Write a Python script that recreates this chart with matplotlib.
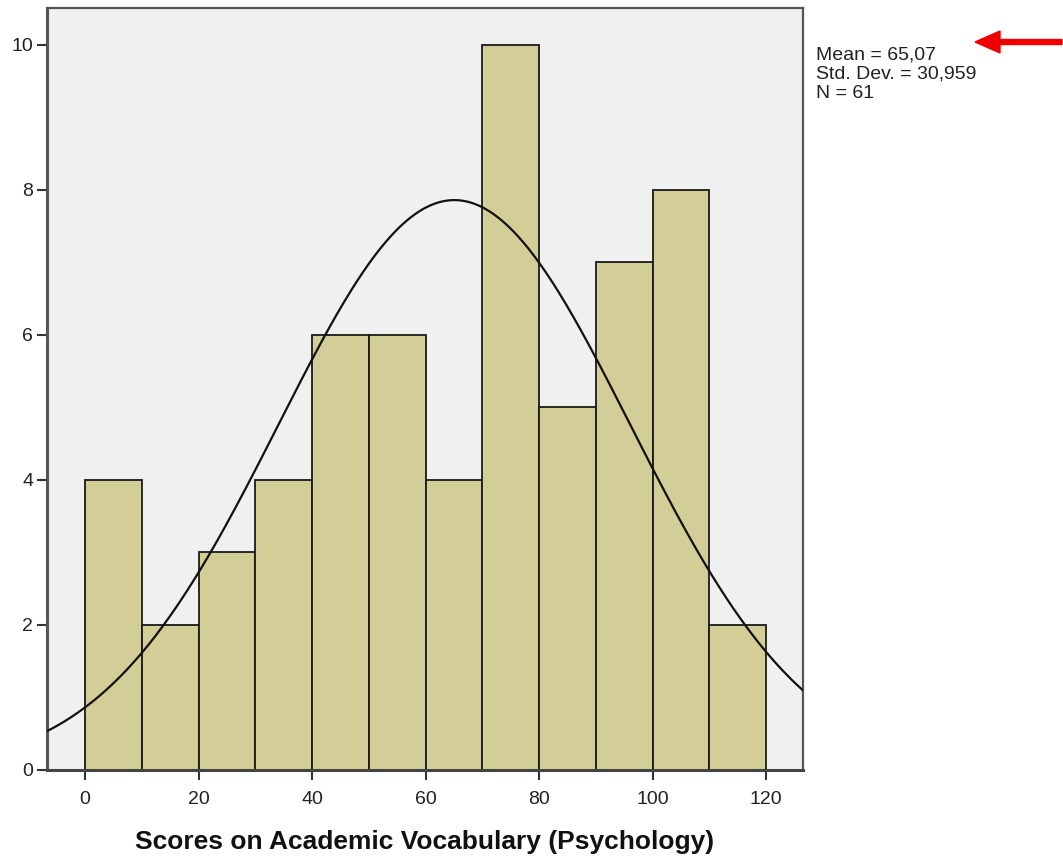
import numpy as np
import matplotlib.pyplot as plt
from matplotlib.patches import FancyArrow

bin_edges = [0, 10, 20, 30, 40, 50, 60, 70, 80, 90, 100, 110, 120]
counts = [4, 2, 3, 4, 6, 6, 4, 10, 5, 7, 8, 2]
mean = 65.07
std = 30.959
n = 61

plt.rcParams['font.family'] = ['Liberation Sans', 'DejaVu Sans']

fig = plt.figure(figsize=(10.63, 8.58), dpi=100)
ax = fig.add_axes([47/1063, 88/858, 756/1063, 762/858])
ax.set_facecolor('#f0f0f0')

lefts = bin_edges[:-1]
ax.bar(lefts, counts, width=10, align='edge', color='#d3ce97',
       edgecolor='#1a1a1a', linewidth=1.3, zorder=2)

# normal curve scaled to the histogram
xs = np.linspace(-7, 127, 400)
width = bin_edges[1] - bin_edges[0]
ys = n * width / (std * np.sqrt(2 * np.pi)) * np.exp(-0.5 * ((xs - mean) / std) ** 2)
ax.plot(xs, ys, color='#111111', lw=1.6, zorder=3)

ax.set_xlim(-6.7, 126.5)
ax.set_ylim(0, 10.51)
ax.set_xticks([0, 20, 40, 60, 80, 100, 120])
ax.set_yticks([0, 2, 4, 6, 8, 10])
ax.tick_params(axis='both', labelsize=14, length=7, width=1.5, color='#333333',
               labelcolor='#222222')
ax.tick_params(axis='x', pad=8)
ax.tick_params(axis='y', pad=3)
for side in ax.spines:
    ax.spines[side].set_color('#555555')
    ax.spines[side].set_linewidth(1.6)
ax.spines['left'].set_linewidth(2.2)
ax.spines['bottom'].set_linewidth(2.2)
ax.spines['bottom'].set_color('#444444')

ax.set_xlabel('Scores on Academic Vocabulary (Psychology)', fontsize=19,
              fontweight='bold', labelpad=16, color='#111111')

fig.text(816/1063, 1 - 46/858, 'Mean = 65,07\nStd. Dev. = 30,959\nN = 61',
         fontsize=14, va='top', ha='left', linespacing=1.2, color='#222222')

arrow = FancyArrow(1062, 858 - 42, -87, 0, width=5, head_width=22,
                   head_length=25, length_includes_head=True,
                   color='#ee0000', transform=None)
fig.add_artist(arrow)

fig.savefig('out.png', dpi=100)
